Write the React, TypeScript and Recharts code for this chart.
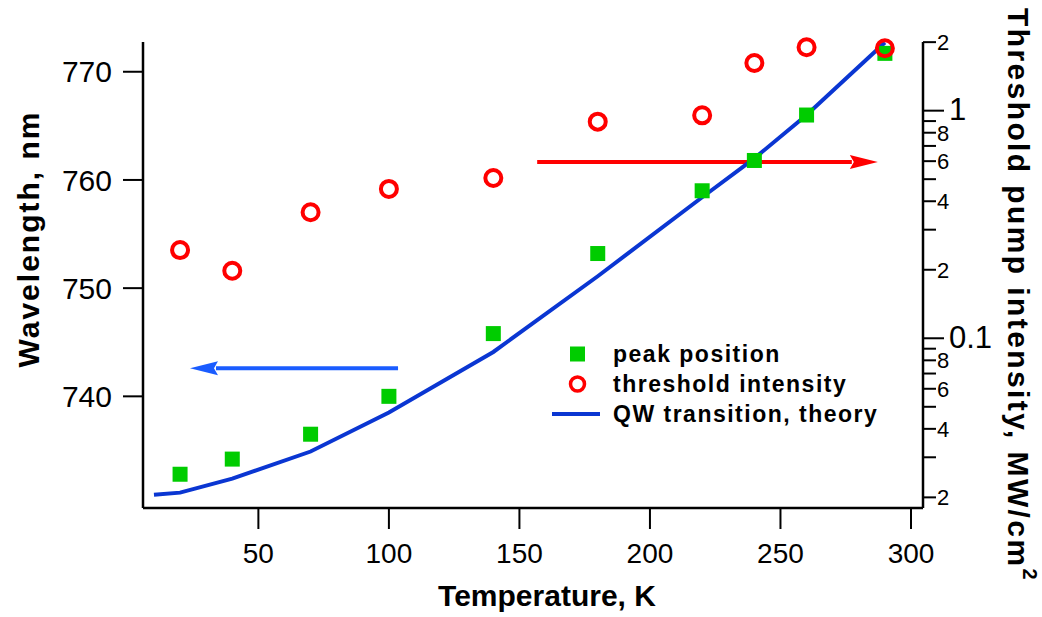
import React from 'react';
import { ComposedChart, Line, Scatter, XAxis, YAxis, Legend, ReferenceLine } from 'recharts';

const FONT = '"Liberation Sans", Arial, Helvetica, sans-serif';

// measured temperatures, K
const temps = [20, 40, 70, 100, 140, 180, 220, 240, 260, 290];
// green squares: emission peak, nm
const peakNm = [732.8, 734.2, 736.5, 740.0, 745.8, 753.2, 759.0, 761.8, 766.0, 771.7];
// red circles: threshold pump intensity, MW/cm2
const thresholdMW = [0.244, 0.198, 0.358, 0.453, 0.506, 0.895, 0.954, 1.62, 1.9, 1.88];
// blue curve: QW transition, theory
const theoryT = [10, 20, 40, 70, 100, 140, 180, 220, 240, 260, 290];
const theoryNm = [730.9, 731.1, 732.4, 734.9, 738.5, 744.1, 751.1, 758.4, 762.0, 766.0, 772.7];

const xTicks = [50, 100, 150, 200, 250, 300];
const leftTicks = [740, 750, 760, 770];
const rightMajor = [0.1, 1];
const rightLabeled = [0.02, 0.04, 0.06, 0.08, 0.2, 0.4, 0.6, 0.8, 2];
const rightMinor = [0.03, 0.05, 0.07, 0.09, 0.3, 0.5, 0.7, 0.9];
const rightTicks = [...rightMajor, ...rightLabeled, ...rightMinor].sort((a, b) => a - b);

// arrows pointing at the axis each series belongs to (data coords, left axis)
const redArrow = [{ x: 156.8, y: 761.66 }, { x: 287.3, y: 761.66 }];
const blueArrow = [{ x: 103.5, y: 742.6 }, { x: 23.8, y: 742.6 }];

const legendItems = [
  { name: 'peak position', kind: 'square' },
  { name: 'threshold intensity', kind: 'circle' },
  { name: 'QW transition, theory', kind: 'line' },
];

const peakData = temps.map((t, i) => ({ t, nm: peakNm[i] }));
const thresholdData = temps.map((t, i) => ({ t, mw: thresholdMW[i] }));
const theoryData = theoryT.map((t, i) => ({ t, nm: theoryNm[i] }));

const GREEN = '#00CC00';
const RED = '#FF0000';
const BLUE = '#0A36D2';
const ARROW_BLUE = '#1A5CFF';

const arrowShape = (color: string) => (p: any) => {
  const { x1, y1, x2, y2 } = p;
  const dir = Math.sign(x2 - x1);
  const bx = x2 - dir * 28;
  return (
    <g>
      <line x1={x1} y1={y1} x2={bx + dir * 2} y2={y2} stroke={color} strokeWidth={4} />
      <polygon points={`${x2},${y2} ${bx},${y2 - 7} ${bx + dir * 4},${y2} ${bx},${y2 + 7}`} fill={color} />
    </g>
  );
};

const RightTick = (props: any) => {
  const { x, y, payload } = props;
  const v = payload.value;
  const isMajor = rightMajor.includes(v);
  const isLabeled = rightLabeled.includes(v);
  return (
    <g>
      <line x1={x} x2={x + (isMajor ? 21 : 13)} y1={y} y2={y} stroke="#000" strokeWidth={2} />
      {isMajor && (
        <text x={x + 26} y={y} dy="0.3em" fontSize={31} fontFamily={FONT} fill="#000">
          {String(v)}
        </text>
      )}
      {isLabeled && (
        <text x={x + 14} y={y} dy="0.36em" fontSize={22} fontFamily={FONT} fill="#000">
          {String(v).replace(/^0\.0*/, '')}
        </text>
      )}
    </g>
  );
};

const LegendBox = () => (
  <div style={{ fontFamily: FONT, fontWeight: 'bold', fontSize: 23, letterSpacing: 1.5, color: '#000' }}>
    {legendItems.map((it) => (
      <div key={it.name} style={{ display: 'flex', alignItems: 'center', height: 30, whiteSpace: 'nowrap' }}>
        <svg width={62} height={30} style={{ display: 'block' }}>
          {it.kind === 'square' && <rect x={22} y={7.5} width={15} height={15} fill={GREEN} />}
          {it.kind === 'circle' && <circle cx={29.5} cy={15} r={7} fill="none" stroke={RED} strokeWidth={3.5} />}
          {it.kind === 'line' && <line x1={4} x2={52} y1={15} y2={15} stroke={BLUE} strokeWidth={4} />}
        </svg>
        <span style={{ marginLeft: 3 }}>{it.name}</span>
      </div>
    ))}
  </div>
);

export default function App() {
  const tickStyle = { fontSize: 30, fill: '#000', fontFamily: FONT };
  return (
    <div>
      <style>{'body{margin:0;background:#fff}'}</style>
      <ComposedChart width={1042} height={617} margin={{ top: 42, right: 0, bottom: 0, left: 0 }}>
        <XAxis
          dataKey="t"
          type="number"
          domain={[5.8, 304.6]}
          ticks={xTicks}
          interval={0}
          height={109}
          tickSize={21}
          tickMargin={14}
          axisLine={{ stroke: '#000', strokeWidth: 2.5 }}
          tickLine={{ stroke: '#000', strokeWidth: 2 }}
          tick={{ ...tickStyle, fontSize: 28 }}
          label={{
            content: ({ viewBox }: any) => (
              <text
                x={viewBox.x + viewBox.width / 2 + 14}
                y={viewBox.y + 98}
                textAnchor="middle"
                fontSize={30}
                fontWeight="bold"
                fontFamily={FONT}
                fill="#000"
              >
                Temperature, K
              </text>
            ),
          }}
        />
        <YAxis
          yAxisId="left"
          dataKey="nm"
          type="number"
          domain={[729.68, 772.75]}
          ticks={leftTicks}
          interval={0}
          width={143}
          tickSize={20}
          tickMargin={11}
          axisLine={{ stroke: '#000', strokeWidth: 2.5 }}
          tickLine={{ stroke: '#000', strokeWidth: 2 }}
          tick={tickStyle}
          label={{
            content: ({ viewBox }: any) => {
              const cx = 28;
              const cy = viewBox.y + viewBox.height / 2 - 36;
              return (
                <text
                  x={cx}
                  y={cy}
                  transform={`rotate(-90, ${cx}, ${cy})`}
                  textAnchor="middle"
                  dominantBaseline="central"
                  fontSize={30}
                  fontWeight="bold"
                  fontFamily={FONT}
                  letterSpacing={2}
                  fill="#000"
                >
                  Wavelength, nm
                </text>
              );
            },
          }}
        />
        <YAxis
          yAxisId="right"
          orientation="right"
          dataKey="mw"
          type="number"
          scale="log"
          domain={[0.01796, 2.003]}
          ticks={rightTicks}
          interval={0}
          width={119}
          tickSize={0}
          tickMargin={0}
          axisLine={{ stroke: '#000', strokeWidth: 2.5 }}
          tickLine={false}
          tick={<RightTick />}
          label={{
            content: ({ viewBox }: any) => {
              const cx = 1018;
              const cy = viewBox.y + viewBox.height / 2 + 20;
              return (
                <text
                  x={cx}
                  y={cy}
                  transform={`rotate(90, ${cx}, ${cy})`}
                  textAnchor="middle"
                  dominantBaseline="central"
                  fontSize={30}
                  fontWeight="bold"
                  fontFamily={FONT}
                  letterSpacing={2.4}
                  fill="#000"
                >
                  Threshold pump intensity, MW/cm
                  <tspan fontSize={20} dy={-12}>2</tspan>
                </text>
              );
            },
          }}
        />
        <ReferenceLine yAxisId="left" segment={redArrow} shape={arrowShape(RED)} />
        <ReferenceLine yAxisId="left" segment={blueArrow} shape={arrowShape(ARROW_BLUE)} />
        <Scatter
          yAxisId="left"
          name="peak position"
          data={peakData}
          fill={GREEN}
          isAnimationActive={false}
          shape={(p: any) => <rect x={p.cx - 7.5} y={p.cy - 7.5} width={15} height={15} fill={GREEN} />}
        />
        <Line
          yAxisId="left"
          name="QW transition, theory"
          data={theoryData}
          dataKey="nm"
          type="linear"
          stroke={BLUE}
          strokeWidth={4}
          dot={false}
          activeDot={false}
          isAnimationActive={false}
        />
        <Scatter
          yAxisId="right"
          name="threshold intensity"
          data={thresholdData}
          fill="none"
          isAnimationActive={false}
          shape={(p: any) => <circle cx={p.cx} cy={p.cy} r={8} fill="none" stroke={RED} strokeWidth={4} />}
        />
        <Legend
          layout="vertical"
          align="center"
          verticalAlign="middle"
          wrapperStyle={{ left: 548, top: 339, width: 'auto', height: 'auto' }}
          content={() => <LegendBox />}
        />
      </ComposedChart>
    </div>
  );
}
